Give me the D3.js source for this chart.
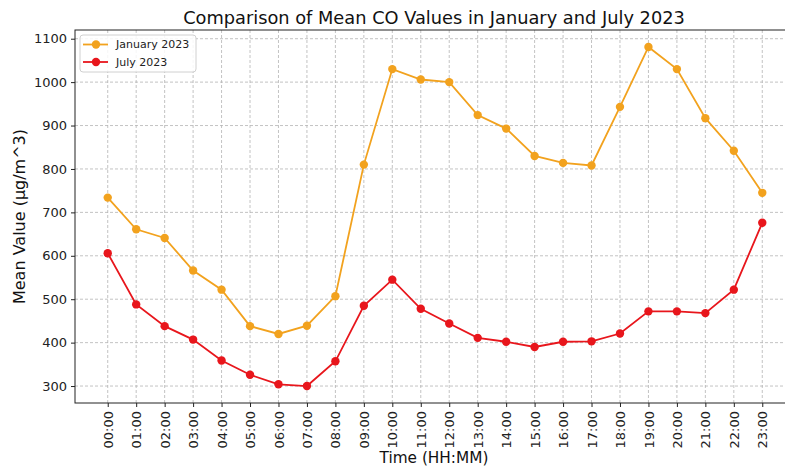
<!DOCTYPE html>
<html>
<head>
<meta charset="utf-8">
<script src="https://cdn.jsdelivr.net/npm/d3@7/dist/d3.min.js"></script>
<style>
  html, body { margin: 0; padding: 0; background: #fff; }
  svg { display: block; font-family: "DejaVu Sans", sans-serif; }
</style>
</head>
<body>
<svg id="chart" width="785" height="472"></svg>
<script>
// Hour labels along the x axis
const hours = ["00:00","01:00","02:00","03:00","04:00","05:00","06:00","07:00",
               "08:00","09:00","10:00","11:00","12:00","13:00","14:00","15:00",
               "16:00","17:00","18:00","19:00","20:00","21:00","22:00","23:00"];

// Mean CO per hour (µg/m^3)
const january = [734, 661, 641, 566, 522, 438, 420, 439, 507, 810, 1030, 1006,
                 1000, 924, 893, 830, 814, 808, 943, 1081, 1030, 917, 842, 745];
const july    = [606, 488, 438, 407, 359, 326, 304, 300, 357, 485, 545, 478,
                 444, 411, 402, 390, 402, 403, 421, 472, 472, 468, 522, 676];

const yTicks = [300, 400, 500, 600, 700, 800, 900, 1000, 1100];

const seriesList = [
  { name: "January 2023", values: january, color: "#f2a21e" },
  { name: "July 2023",    values: july,    color: "#e8161c" }
];

const svg = d3.select("#chart");
const plot = { left: 75, right: 795, top: 30, bottom: 403 };

// Axis limits padded by 5% of the data span on each side
const n = hours.length;
const xPad = (n - 1) * 0.05;
const x = d3.scaleLinear()
  .domain([-xPad, n - 1 + xPad])
  .range([plot.left, plot.right]);

const allVals = january.concat(july);
const vMin = d3.min(allVals), vMax = d3.max(allVals);
const yPad = (vMax - vMin) * 0.05;
const y = d3.scaleLinear()
  .domain([vMin - yPad, vMax + yPad])
  .range([plot.bottom, plot.top]);

// Grid
const grid = svg.append("g").attr("stroke", "#b4b4b4").attr("stroke-width", 0.8)
  .attr("stroke-dasharray", "3,2");
grid.selectAll("line.v").data(d3.range(n)).join("line")
  .attr("x1", d => x(d)).attr("x2", d => x(d))
  .attr("y1", plot.top).attr("y2", plot.bottom);
grid.selectAll("line.h").data(yTicks).join("line")
  .attr("x1", plot.left).attr("x2", plot.right)
  .attr("y1", d => y(d)).attr("y2", d => y(d));

// Axes
const xAxis = d3.axisBottom(x)
  .tickValues(d3.range(n))
  .tickFormat(i => hours[i])
  .tickSize(4).tickPadding(3);
const gx = svg.append("g")
  .attr("transform", `translate(0,${plot.bottom})`)
  .call(xAxis);
gx.select(".domain").remove();
gx.selectAll(".tick line").attr("stroke", "#222");
gx.selectAll(".tick text")
  .attr("font-size", 13).attr("fill", "#222")
  .attr("font-family", "DejaVu Sans, sans-serif")
  .attr("text-anchor", "end")
  .attr("transform", "rotate(-90)")
  .attr("x", -8).attr("y", 0).attr("dy", "0.35em");

const yAxis = d3.axisLeft(y)
  .tickValues(yTicks)
  .tickFormat(d3.format("d"))
  .tickSize(4).tickPadding(4);
const gy = svg.append("g")
  .attr("transform", `translate(${plot.left},0)`)
  .call(yAxis);
gy.select(".domain").remove();
gy.selectAll(".tick line").attr("stroke", "#222");
gy.selectAll(".tick text")
  .attr("font-size", 13).attr("fill", "#222")
  .attr("font-family", "DejaVu Sans, sans-serif");

// Frame
svg.append("rect")
  .attr("x", plot.left).attr("y", plot.top)
  .attr("width", plot.right - plot.left).attr("height", plot.bottom - plot.top)
  .attr("fill", "none").attr("stroke", "#222").attr("stroke-width", 1);

// Lines with markers
const line = d3.line().x((d, i) => x(i)).y(d => y(d));
seriesList.forEach(s => {
  svg.append("path")
    .datum(s.values)
    .attr("fill", "none")
    .attr("stroke", s.color)
    .attr("stroke-width", 1.8)
    .attr("d", line);
  svg.append("g").selectAll("circle").data(s.values).join("circle")
    .attr("cx", (d, i) => x(i)).attr("cy", d => y(d))
    .attr("r", 4.2).attr("fill", s.color);
});

// Legend
const lg = svg.append("g").attr("transform", "translate(80,35)");
lg.append("rect")
  .attr("width", 116).attr("height", 37).attr("rx", 3)
  .attr("fill", "#fff").attr("fill-opacity", 0.85)
  .attr("stroke", "#d0d0d0");
seriesList.forEach((s, i) => {
  const row = lg.append("g").attr("transform", `translate(0,${9.5 + i * 17.5})`);
  row.append("line").attr("x1", 3).attr("x2", 28)
    .attr("stroke", s.color).attr("stroke-width", 1.8);
  row.append("circle").attr("cx", 16).attr("r", 4.2).attr("fill", s.color);
  row.append("text").attr("x", 36).attr("dy", "0.35em")
    .attr("font-size", 11).attr("fill", "#222").text(s.name);
});

// Title and axis labels
svg.append("text")
  .attr("x", 434).attr("y", 24)
  .attr("text-anchor", "middle")
  .attr("font-size", 17.8).attr("fill", "#111")
  .text("Comparison of Mean CO Values in January and July 2023");

svg.append("text")
  .attr("x", 434).attr("y", 463)
  .attr("text-anchor", "middle")
  .attr("font-size", 15.3).attr("fill", "#111")
  .text("Time (HH:MM)");

svg.append("text")
  .attr("transform", `translate(25,${(plot.top + plot.bottom) / 2}) rotate(-90)`)
  .attr("text-anchor", "middle")
  .attr("font-size", 16).attr("fill", "#111")
  .text("Mean Value (μg/m^3)");
</script>
</body>
</html>
